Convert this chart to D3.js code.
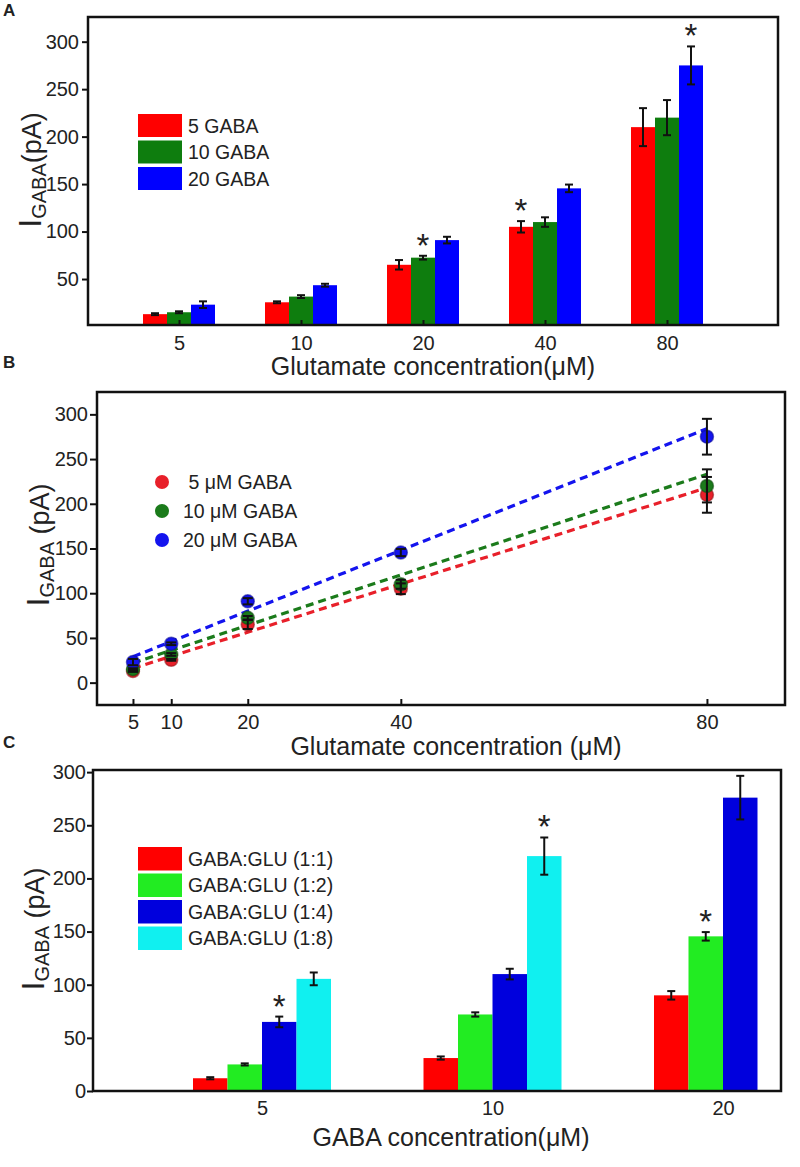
<!DOCTYPE html>
<html>
<head>
<meta charset="utf-8">
<script src="https://cdn.jsdelivr.net/npm/d3@7"></script>
<style>
  html, body { margin: 0; padding: 0; background: #fff; }
  svg { display: block; font-family: "Liberation Sans", Arial, sans-serif; }
  text { fill: #222; }
</style>
</head>
<body>
<svg id="fig" width="800" height="1167"></svg>
<script>
// ---------------- DATA ----------------
// Panel A: GABA current vs glutamate concentration (bars)
const glutamateCats = ["5", "10", "20", "40", "80"];
const seriesA = ["5 GABA", "10 GABA", "20 GABA"];
const valsA5  = [13, 25.5, 65, 105, 210];
const valsA10 = [15, 31.5, 72.5, 110, 220];
const valsA20 = [23, 43.5, 91, 145.5, 275];
const errA5   = [1, 1, 5, 6, 20];
const errA10  = [1, 1.5, 2, 5, 18.5];
const errA20  = [3.5, 1.5, 3.5, 4, 20];
const starsA  = [[2, 1], [3, 0], [4, 2]]; // [category index, series index]
const yTicksA = [50, 100, 150, 200, 250, 300];

// Panel B: same data as scatter with linear fits
const glutamateX = [5, 10, 20, 40, 80];
const seriesB = [" 5 \u03bcM GABA", "10 \u03bcM GABA", "20 \u03bcM GABA"];
const fitStartX = 5, fitEndX = 80;
const fitAtStart = [16, 22, 29];
const fitAtEnd   = [218, 233, 284];
const yTicksB = [0, 50, 100, 150, 200, 250, 300];

// Panel C: GABA concentration with GABA:GLU ratios
const gabaCats = ["5", "10", "20"];
const seriesC = ["GABA:GLU (1:1)", "GABA:GLU (1:2)", "GABA:GLU (1:4)", "GABA:GLU (1:8)"];
const valsC11 = [12, 31, 90];
const valsC12 = [25, 72, 145.5];
const valsC14 = [65, 110, 276];
const valsC18 = [105.5, 221, null];
const errC11  = [1, 1.5, 4];
const errC12  = [1, 2, 4];
const errC14  = [5, 5, 20.5];
const errC18  = [6, 17.5, null];
const starsC  = [[0, 2], [1, 3], [2, 1]];
const yTicksC = [0, 50, 100, 150, 200, 250, 300];

// ---------------- STYLE ----------------
const colorsA = ["#ff0000", "#0e7d0e", "#0000ff"];
const colorsB = ["#e8202a", "#1b7b1b", "#1414ee"];
const colorsC = ["#ff0000", "#22ec22", "#0000dd", "#10f0f0"];
const INK = "#111";

const svg = d3.select("#fig");

function frame(g, L, T, R, B) {
  g.append("rect").attr("x", L).attr("y", T).attr("width", R - L).attr("height", B - T)
    .attr("fill", "none").attr("stroke", INK).attr("stroke-width", 2.5);
}
function styleAxis(sel, fs) {
  sel.select(".domain").remove();
  sel.selectAll(".tick line").attr("stroke", INK).attr("stroke-width", 2);
  sel.selectAll(".tick text").attr("fill", "#222").style("font-size", fs + "px")
    .style("font-family", '"Liberation Sans", Arial, sans-serif');
}
function yTitle(g, x, y, withSpace) {
  const t = g.append("text").attr("transform", `translate(${x},${y}) rotate(-90)`)
    .attr("text-anchor", "middle");
  t.append("tspan").style("font-size", "32px").text("I");
  t.append("tspan").style("font-size", "20px").attr("dy", 5).text("GABA");
  t.append("tspan").style("font-size", "27px").attr("dy", -5)
    .style("white-space", "pre").text(withSpace ? " (pA)" : "(pA)");
}
function panelLetter(txt, x, y) {
  svg.append("text").attr("x", x).attr("y", y).style("font-size", "17px")
    .style("font-weight", "bold").style("font-family", "Arial, 'Liberation Sans', sans-serif")
    .attr("fill", "#000").text(txt);
}
function errBar(g, cx, yTop, yBot, cap) {
  g.append("line").attr("x1", cx).attr("x2", cx).attr("y1", yTop).attr("y2", yBot)
    .attr("stroke", INK).attr("stroke-width", 2);
  [yTop, yBot].forEach(yy => g.append("line").attr("x1", cx - cap).attr("x2", cx + cap)
    .attr("y1", yy).attr("y2", yy).attr("stroke", INK).attr("stroke-width", 2));
}
function star(g, cx, yTop) {
  g.append("text").attr("x", cx).attr("y", yTop + 1).attr("text-anchor", "middle")
    .style("font-size", "33px").attr("fill", "#111").text("*");
}

// ================= PANEL A =================
(function () {
  const L = 88, T = 17, R = 778, B = 325;
  const g = svg.append("g");
  const y = d3.scaleLinear().domain([0, 326]).range([B + 1.5, T]);
  const x = d3.scalePoint().domain(glutamateCats).range([L + 91, R - 111]);
  const inner = d3.scaleBand().domain(seriesA).range([-36, 36]);
  const vals = [valsA5, valsA10, valsA20];
  const errs = [errA5, errA10, errA20];

  seriesA.forEach((s, si) => {
    g.selectAll(null).data(glutamateCats).enter().append("rect")
      .attr("x", d => x(d) + inner(s))
      .attr("width", inner.bandwidth())
      .attr("y", (d, i) => y(vals[si][i]))
      .attr("height", (d, i) => B - y(vals[si][i]))
      .attr("fill", colorsA[si]);
  });
  seriesA.forEach((s, si) => {
    glutamateCats.forEach((c, i) => {
      const cx = x(c) + inner(s) + inner.bandwidth() / 2;
      errBar(g, cx, y(vals[si][i] + errs[si][i]), y(vals[si][i] - errs[si][i]), 4);
    });
  });
  starsA.forEach(([ci, si]) => {
    const c = glutamateCats[ci], s = seriesA[si];
    star(g, x(c) + inner(s) + inner.bandwidth() / 2, y(vals[si][ci] + errs[si][ci]));
  });

  const ya = g.append("g").attr("transform", `translate(${L},0)`)
    .call(d3.axisLeft(y).tickValues(yTicksA).tickSize(6).tickPadding(3));
  styleAxis(ya, 20);
  const xa = g.append("g").attr("transform", `translate(0,${B})`)
    .call(d3.axisBottom(x).tickSize(-5).tickPadding(11));
  styleAxis(xa, 20);
  frame(g, L, T, R, B);

  const lg = g.append("g");
  seriesA.forEach((s, i) => {
    lg.append("rect").attr("x", 138).attr("y", 114 + i * 26.5).attr("width", 44).attr("height", 23)
      .attr("fill", colorsA[i]);
    lg.append("text").attr("x", 188).attr("y", 114 + i * 26.5 + 18.5)
      .style("font-size", "19.5px").text(s);
  });

  yTitle(g, 41, 170, false);
  g.append("text").attr("x", 433).attr("y", 375).attr("text-anchor", "middle")
    .style("font-size", "25px").text("Glutamate concentration(\u03bcM)");
})();

// ================= PANEL B =================
(function () {
  const L = 97, T = 392, R = 785, B = 705;
  const g = svg.append("g");
  const y = d3.scaleLinear().domain([-25, 325]).range([B, T]);
  const x = d3.scaleLinear().domain([0.3, 90.2]).range([L, R]);
  const vals = [valsA5, valsA10, valsA20];
  const errs = [errA5, errA10, errA20];

  seriesB.forEach((s, si) => {
    g.append("line")
      .attr("x1", x(fitStartX)).attr("y1", y(fitAtStart[si]))
      .attr("x2", x(fitEndX)).attr("y2", y(fitAtEnd[si]))
      .attr("stroke", colorsB[si]).attr("stroke-width", 3.2)
      .attr("stroke-dasharray", "8,5");
  });
  seriesB.forEach((s, si) => {
    g.selectAll(null).data(glutamateX).enter().append("circle")
      .attr("cx", d => x(d)).attr("cy", (d, i) => y(vals[si][i])).attr("r", 6.5)
      .attr("fill", colorsB[si]).attr("stroke", d3.color(colorsB[si]).darker(1.2))
      .attr("stroke-opacity", 0.6).attr("stroke-width", 1.5);
  });
  seriesB.forEach((s, si) => {
    glutamateX.forEach((d, i) => {
      errBar(g, x(d), y(vals[si][i] + errs[si][i]), y(vals[si][i] - errs[si][i]), 5);
    });
  });

  const ya = g.append("g").attr("transform", `translate(${L},0)`)
    .call(d3.axisLeft(y).tickValues(yTicksB).tickSize(7).tickPadding(2));
  styleAxis(ya, 20);
  const xa = g.append("g").attr("transform", `translate(0,${B})`)
    .call(d3.axisBottom(x).tickValues(glutamateX).tickFormat(d3.format("d")).tickSize(-6).tickPadding(10));
  styleAxis(xa, 20);
  frame(g, L, T, R, B);

  seriesB.forEach((s, i) => {
    g.append("circle").attr("cx", 162).attr("cy", 482 + i * 29).attr("r", 7)
      .attr("fill", colorsB[i]);
    g.append("text").attr("x", 183).attr("y", 482 + i * 29 + 7)
      .style("font-size", "19.5px").style("white-space", "pre").text(s);
  });

  yTitle(g, 49, 545, true);
  g.append("text").attr("x", 456).attr("y", 755).attr("text-anchor", "middle")
    .style("font-size", "25px").text("Glutamate concentration (\u03bcM)");
})();

// ================= PANEL C =================
(function () {
  const L = 93, T = 770, R = 781, B = 1091;
  const g = svg.append("g");
  const y = d3.scaleLinear().domain([0, 302]).range([B, T]);
  const x = d3.scalePoint().domain(gabaCats).range([L + 169, R - 58]);
  const inner = d3.scaleBand().domain(seriesC).range([-69, 69]);
  const vals = [valsC11, valsC12, valsC14, valsC18];
  const errs = [errC11, errC12, errC14, errC18];

  seriesC.forEach((s, si) => {
    const data = gabaCats.map((c, i) => ({ c, v: vals[si][i], e: errs[si][i] })).filter(d => d.v != null);
    g.selectAll(null).data(data).enter().append("rect")
      .attr("x", d => x(d.c) + inner(s))
      .attr("width", inner.bandwidth())
      .attr("y", d => y(d.v))
      .attr("height", d => B - y(d.v))
      .attr("fill", colorsC[si]);
    data.forEach(d => {
      const cx = x(d.c) + inner(s) + inner.bandwidth() / 2;
      errBar(g, cx, y(d.v + d.e), y(d.v - d.e), 4);
    });
  });
  starsC.forEach(([ci, si]) => {
    const s = seriesC[si];
    star(g, x(gabaCats[ci]) + inner(s) + inner.bandwidth() / 2, y(vals[si][ci] + errs[si][ci]));
  });

  const ya = g.append("g").attr("transform", `translate(${L},0)`)
    .call(d3.axisLeft(y).tickValues(yTicksC).tickSize(6).tickPadding(1));
  styleAxis(ya, 20);
  const xa = g.append("g").attr("transform", `translate(0,${B})`)
    .call(d3.axisBottom(x).tickSize(0).tickPadding(10));
  styleAxis(xa, 20);
  frame(g, L, T, R, B);

  seriesC.forEach((s, i) => {
    g.append("rect").attr("x", 138).attr("y", 847 + i * 26.5).attr("width", 44).attr("height", 23.5)
      .attr("fill", colorsC[i]);
    g.append("text").attr("x", 188).attr("y", 847 + i * 26.5 + 18.5)
      .style("font-size", "19.5px").text(s);
  });

  yTitle(g, 44, 929, true);
  g.append("text").attr("x", 451).attr("y", 1146).attr("text-anchor", "middle")
    .style("font-size", "25px").text("GABA concentration(\u03bcM)");
})();

panelLetter("A", 3, 16);
panelLetter("B", 3, 368);
panelLetter("C", 3, 748);
</script>
</body>
</html>
